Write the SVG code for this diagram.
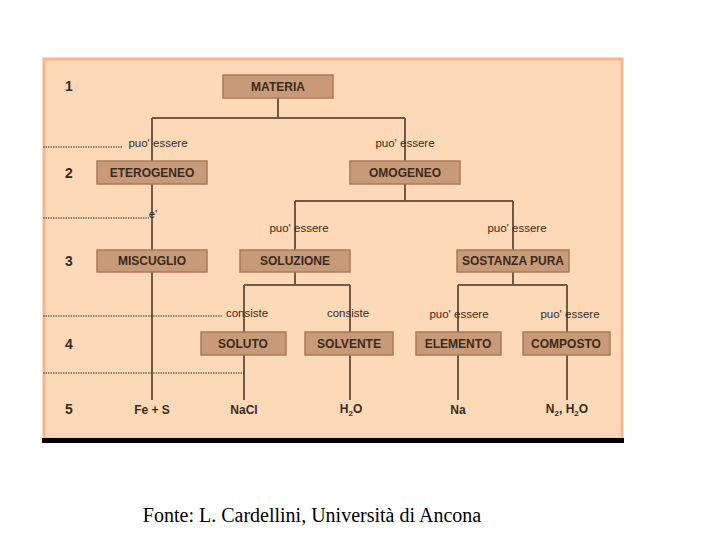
<svg xmlns="http://www.w3.org/2000/svg" width="720" height="540" viewBox="0 0 720 540">
<style>
.b{fill:#c99a78;stroke:#a87a5a;stroke-width:1.5}
.t{font-family:"Liberation Sans",Arial,sans-serif;font-weight:bold;font-size:12px;fill:#3a2a20;text-anchor:middle}
.l{font-family:"Liberation Sans",Arial,sans-serif;font-size:11.5px;fill:#3a2a20;text-anchor:middle}
.n{font-family:"Liberation Sans",Arial,sans-serif;font-weight:bold;font-size:14px;fill:#3a2a20;text-anchor:middle}
.c{stroke:#6e5a48;stroke-width:2;fill:none}
.d{stroke:#3a2a20;stroke-width:1;stroke-dasharray:1.5 1;fill:none}
</style>
<rect width="720" height="540" fill="#fff"/>
<rect x="44" y="59" width="578" height="380" fill="#fdd9b8" stroke="#f6b690" stroke-width="3"/>
<rect x="42" y="438" width="582" height="5" fill="#000"/>
<g id="connectors">
<path class="c" d="M278 98V118M152 118H405M152 118V161M405 118V161"/>
<path class="c" d="M152 184V250M152 272V400"/>
<path class="c" d="M405 184V201M295 201H513M295 201V250M513 201V250"/>
<path class="c" d="M295 272V285M244 285H350M244 285V332M350 285V332"/>
<path class="c" d="M513 272V285M458 285H567M458 285V332M567 285V332"/>
<path class="c" d="M244 355V400M350 355V400M458 355V400M567 355V400"/>
<path class="d" d="M43 147H122M43 218H149M43 316H222M43 373H244"/>
</g>
<g id="labels">
<text class="l" x="158" y="147">puo' essere</text>
<text class="l" x="405" y="147">puo' essere</text>
<text class="l" x="153" y="218">e'</text>
<text class="l" x="299" y="232">puo' essere</text>
<text class="l" x="517" y="232">puo' essere</text>
<text class="l" x="247" y="317">consiste</text>
<text class="l" x="348" y="317">consiste</text>
<text class="l" x="459" y="318">puo' essere</text>
<text class="l" x="570" y="318">puo' essere</text>
</g>
<g id="levels">
<text class="n" x="69" y="91">1</text>
<text class="n" x="69" y="178">2</text>
<text class="n" x="69" y="266">3</text>
<text class="n" x="69" y="349">4</text>
<text class="n" x="69" y="414">5</text>
</g>
<g id="materia"><rect class="b" x="223" y="75" width="110" height="23"/><text class="t" x="278" y="91">MATERIA</text></g>
<g id="eterogeneo"><rect class="b" x="97" y="161" width="110" height="23"/><text class="t" x="152" y="177">ETEROGENEO</text></g>
<g id="omogeneo"><rect class="b" x="350" y="161" width="110" height="23"/><text class="t" x="405" y="177">OMOGENEO</text></g>
<g id="miscuglio"><rect class="b" x="97" y="250" width="110" height="22"/><text class="t" x="152" y="265">MISCUGLIO</text></g>
<g id="soluzione"><rect class="b" x="240" y="250" width="110" height="22"/><text class="t" x="295" y="265">SOLUZIONE</text></g>
<g id="sostanza"><rect class="b" x="457" y="250" width="112" height="22"/><text class="t" x="513" y="265">SOSTANZA PURA</text></g>
<g id="soluto"><rect class="b" x="201" y="332" width="85" height="23"/><text class="t" x="243" y="348">SOLUTO</text></g>
<g id="solvente"><rect class="b" x="305" y="332" width="88" height="23"/><text class="t" x="349" y="348">SOLVENTE</text></g>
<g id="elemento"><rect class="b" x="416" y="332" width="85" height="23"/><text class="t" x="458" y="348">ELEMENTO</text></g>
<g id="composto"><rect class="b" x="523" y="332" width="87" height="23"/><text class="t" x="566" y="348">COMPOSTO</text></g>
<g id="leaves">
<text class="t" x="152" y="414">Fe + S</text>
<text class="t" x="244" y="414">NaCl</text>
<text class="t" x="351" y="413">H<tspan font-size="8" dy="3">2</tspan><tspan dy="-3">O</tspan></text>
<text class="t" x="458" y="414">Na</text>
<text class="t" x="567" y="413">N<tspan font-size="8" dy="3">2</tspan><tspan dy="-3">, H</tspan><tspan font-size="8" dy="3">2</tspan><tspan dy="-3">O</tspan></text>
</g>
<text x="312" y="522" font-family="Liberation Serif,serif" font-size="20" text-anchor="middle">Fonte: L. Cardellini, Università di Ancona</text>
</svg>
